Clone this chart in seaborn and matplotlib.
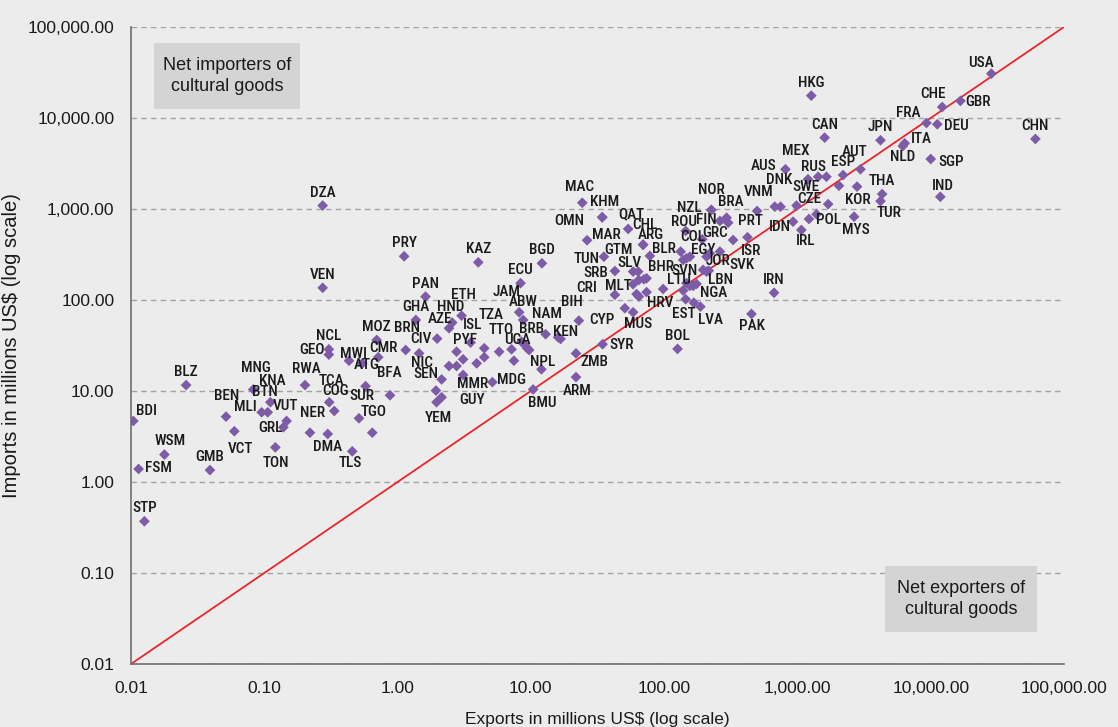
import pandas as pd
import matplotlib
matplotlib.use('Agg')
import matplotlib.pyplot as plt
import seaborn as sns
from matplotlib.patches import Rectangle
from matplotlib.ticker import FixedLocator, FuncFormatter, NullLocator

# cultural goods trade, millions US$; '' = unlabelled point
countries = ['USA', 'CHE', 'GBR', 'FRA', 'DEU', 'ITA', 'NLD', 'SGP', 'IND', 'CHN',
             'JPN', 'HKG', 'CAN', 'THA', 'TUR', 'AUT', 'ESP', 'KOR', 'MYS', 'AUS',
             'MEX', 'RUS', 'DNK', 'SWE', 'CZE', 'VNM', '', 'IDN', 'IRL', 'POL',
             '', '', '', 'PRT', 'ISR', 'IRN', 'PAK', 'NZL', 'NOR', 'FIN',
             'BRA', 'GRC', 'ROU', 'COL', 'EGY', 'JOR', 'SVK', 'BLR', 'BHR', 'SVN',
             '', '', 'LBN', '', '', 'LTU', '', '', 'NGA', '',
             'EST', '', 'LVA', 'BOL', 'HRV', '', '', 'MLT', 'CRI', 'MUS',
             'CYP', 'BIH', 'SYR', 'ZMB', 'ARM', 'SLV', '', '', '', '',
             'SRB', 'TUN', 'GTM', 'MAR', 'QAT', 'ARG', 'CHL', 'MAC', 'KHM', 'OMN',
             'BGD', 'ECU', 'ABW', 'JAM', 'NAM', 'KEN', '', 'NPL', 'BMU', 'MDG',
             'BRB', '', '', 'UGA', 'TTO', '', '', 'TZA', '', 'ISL',
             'PYF', '', '', '', '', 'NIC', 'MMR', 'SEN', 'YEM', 'GUY',
             'ETH', 'HND', 'AZE', '', 'GHA', 'PAN', 'PRY', 'KAZ', 'DZA', 'VEN',
             'CIV', 'BRN', 'MOZ', 'CMR', 'NCL', 'GEO', 'MWI', '', 'ATG', 'BFA',
             'RWA', 'TCA', 'COG', 'SUR', 'TGO', 'NER', 'DMA', 'TLS', 'MNG', 'KNA',
             'BTN', 'MLI', 'VUT', 'GRL', 'TON', 'BEN', 'VCT', 'BLZ', 'BDI', 'WSM',
             'FSM', 'GMB', 'STP']
exports = [28500, 12200, 16700, 9290, 11200, 6380, 6170, 10000, 11800, 61000,
           4200, 1270, 1600, 4320, 4200, 2970, 2200, 2800, 2660, 813,
           1650, 1430, 746, 1200, 984, 498, 676, 927, 1070, 1390,
           1220, 1700, 2050, 422, 329, 668, 452, 226, 226, 262,
           294, 302, 145, 193, 208, 220, 262, 133, 78.1, 147,
           139, 156, 216, 196, 208, 147, 156, 165, 175, 139,
           145, 167, 187, 126, 98.2, 73.8, 64.6, 62.1, 42.7, 58.5,
           50.7, 22.9, 34.5, 21.8, 21.8, 58.5, 63.8, 64.6, 70.5, 73.8,
           58.5, 42.7, 35.3, 26.4, 53.7, 69.5, 69.5, 24.3, 34.3, 34.3,
           12.1, 8.37, 8.17, 8.75, 12.9, 16.7, 16.0, 12.0, 10.4, 5.14,
           8.51, 9.02, 9.38, 9.71, 7.16, 5.78, 7.46, 4.47, 4.47, 3.53,
           2.77, 3.10, 3.92, 2.43, 2.77, 2.14, 3.10, 1.94, 1.96, 2.14,
           3.02, 2.57, 2.43, 1.98, 1.37, 1.62, 1.12, 4.03, 0.274, 0.274,
           1.45, 1.15, 0.697, 0.716, 0.305, 0.305, 0.432, 0.543, 0.575, 0.877,
           0.202, 0.307, 0.335, 0.513, 0.646, 0.220, 0.299, 0.457, 0.0826, 0.111,
           0.106, 0.0955, 0.147, 0.139, 0.121, 0.0516, 0.0596, 0.0259, 0.0104, 0.0178,
           0.0114, 0.0391, 0.0126]
imports = [30700, 13200, 15400, 8810, 8530, 5270, 4920, 3540, 1360, 5880,
           5690, 17600, 6080, 1460, 1220, 2730, 2360, 1760, 822, 2730,
           2260, 2260, 1060, 2120, 1090, 951, 1060, 725, 588, 875,
           776, 1130, 1800, 489, 456, 120, 70.2, 975, 975, 738,
           802, 706, 573, 464, 299, 326, 340, 340, 305, 287,
           275, 299, 210, 214, 205, 153, 143, 143, 150, 127,
           102, 93.3, 84.4, 29.0, 132, 122, 109, 116, 114, 73.3,
           81.1, 59.3, 32.6, 25.9, 14.2, 205, 205, 166, 169, 173,
           149, 208, 299, 453, 603, 405, 405, 1170, 811, 811,
           253, 153, 73.3, 60.3, 42.0, 37.3, 38.9, 17.3, 10.4, 12.5,
           34.8, 32.0, 29.5, 28.2, 28.7, 27.0, 21.5, 29.5, 23.5, 34.0,
           27.0, 22.3, 20.1, 18.8, 18.8, 13.4, 15.0, 10.1, 7.52, 8.53,
           67.2, 56.4, 48.9, 37.6, 60.3, 109, 302, 259, 1090, 136,
           25.9, 28.2, 36.3, 23.5, 28.7, 25.1, 21.5, 20.1, 11.3, 8.97,
           11.6, 7.52, 6.03, 5.01, 3.48, 3.48, 3.37, 2.17, 10.4, 7.52,
           5.83, 5.83, 4.68, 3.99, 2.40, 5.22, 3.61, 11.6, 4.68, 2.00,
           1.39, 1.35, 0.370]

decade_ticks = [0.01, 0.1, 1, 10, 100, 1000, 10000, 100000]

# label placement relative to its point, in pixels (x right, y down); default is just above
label_offsets = {
    'USA': (-10, -11), 'CHE': (-9, -13), 'GBR': (18, 1), 'FRA': (-18, -10), 'DEU': (19, 2),
    'ITA': (17, -4), 'NLD': (0, 11), 'SGP': (20, 3), 'IND': (3, -11), 'TUR': (9, 12),
    'AUT': (-6, -17), 'KOR': (1, 13), 'MYS': (2, 13), 'AUS': (-22, -3), 'MEX': (-31, -26),
    'RUS': (-5, -10), 'DNK': (-1, -27), 'SWE': (-2, 8), 'CZE': (13, -7), 'VNM': (1, -19),
    'IDN': (-13, 5), 'IRL': (4, 11), 'POL': (12, 6), 'PRT': (3, -16), 'ISR': (18, 11),
    'PAK': (0, 12), 'NZL': (-22, -2), 'NOR': (0, -20), 'FIN': (-14, -1), 'BRA': (4, -16),
    'GRC': (-13, 10), 'ROU': (-2, -9), 'COL': (-9, -2), 'EGY': (-3, -7), 'JOR': (8, 8),
    'SVK': (22, 13), 'BLR': (-17, -3), 'BHR': (11, 11), 'SVN': (-2, 13), 'LBN': (12, 9),
    'LTU': (-8, -3), 'NGA': (17, 9), 'EST': (-2, 15), 'LVA': (10, 13), 'HRV': (-3, 14),
    'MLT': (-18, -8), 'CRI': (-28, -7), 'MUS': (5, 12), 'CYP': (-23, 12), 'BIH': (-7, -19),
    'SYR': (19, 1), 'ZMB': (18, 9), 'ARM': (1, 14), 'SLV': (-4, -9), 'SRB': (-37, -11),
    'TUN': (-28, -12), 'GTM': (15, -7), 'MAR': (19, -5), 'QAT': (3, -15), 'ARG': (8, -10),
    'CHL': (2, -20), 'MAC': (-3, -16), 'KHM': (2, -15), 'OMN': (-33, 4), 'ABW': (4, -10),
    'JAM': (-17, -28), 'NAM': (1, -20), 'KEN': (5, -7), 'NPL': (1, -7), 'BMU': (9, 14),
    'MDG': (19, -2), 'BRB': (10, -13), 'UGA': (-12, -10), 'TTO': (-10, -19), 'TZA': (7, -33),
    'ISL': (2, -18), 'PYF': (8, -12), 'NIC': (-20, -16), 'MMR': (10, 9), 'SEN': (-10, -17),
    'YEM': (2, 16), 'GUY': (30, 3), 'ETH': (2, -21), 'HND': (-2, -16), 'AZE': (-9, -9),
    'CIV': (2, -14), 'BRN': (1, -22), 'CMR': (5, -9), 'GEO': (-17, -5), 'MWI': (4, -7),
    'ATG': (1, -21), 'BFA': (-1, -22), 'RWA': (1, -16), 'TCA': (2, -21), 'COG': (1, -20),
    'SUR': (3, -22), 'TGO': (1, -21), 'NER': (3, -20), 'DMA': (0, 13), 'TLS': (-2, 12),
    'MNG': (3, -21), 'KNA': (2, -21), 'BTN': (-3, -20), 'MLI': (-16, -5), 'VUT': (-1, -15),
    'GRL': (-13, 1), 'TON': (1, 16), 'BEN': (1, -21), 'VCT': (6, 18), 'BDI': (13, -10),
    'WSM': (6, -14), 'FSM': (20, -1),
}

sns.set_theme(style='white')
plt.rcParams['font.family'] = ['Liberation Sans', 'DejaVu Sans']
bg = '#ECECEC'
ink = '#1A1A1A'

df = pd.DataFrame({'country': countries, 'exports': exports, 'imports': imports})

fig, ax = plt.subplots(figsize=(11.18, 7.27), dpi=100)
fig.patch.set_facecolor(bg)
ax.set_facecolor(bg)
fig.subplots_adjust(left=0.1172, right=0.9517, bottom=0.0867, top=0.9629)

ax.set_xscale('log')
ax.set_yscale('log')

# parity line: exports == imports
ax.plot([decade_ticks[0], decade_ticks[-1]], [decade_ticks[0], decade_ticks[-1]],
        color='#E8262B', lw=1.3, zorder=2)

sns.scatterplot(data=df, x='exports', y='imports', marker='D', s=30,
                color='#7D5BA6', edgecolor='none', ax=ax, zorder=3)

for name, x, y in zip(countries, exports, imports):
    if not name:
        continue
    dx, dy = label_offsets.get(name, (0, -13))
    ax.annotate(name, (x, y), xytext=(dx, -dy), textcoords='offset pixels',
                ha='center', va='center', fontsize=11, fontweight='medium',
                color=ink, zorder=4, family=['Roboto Condensed', 'Liberation Sans'])

ax.set_xlim(decade_ticks[0], decade_ticks[-1])
ax.set_ylim(decade_ticks[0], decade_ticks[-1])
fmt = FuncFormatter(lambda v, _: f'{v:,.2f}')
for axis in (ax.xaxis, ax.yaxis):
    axis.set_major_locator(FixedLocator(decade_ticks))
    axis.set_minor_locator(NullLocator())
    axis.set_major_formatter(fmt)

ax.yaxis.grid(True, linestyle=(0, (4, 3)), color='#A3A3A3', lw=1)
ax.xaxis.grid(False)
ax.set_axisbelow(True)
for side in ('top', 'right'):
    ax.spines[side].set_visible(False)
for side in ('left', 'bottom'):
    ax.spines[side].set_color('#6E6E6E')
    ax.spines[side].set_linewidth(1.2)
ax.tick_params(axis='x', length=4, color='#6E6E6E', pad=8, labelsize=12.5, labelcolor=ink)
ax.tick_params(axis='y', length=0, pad=12, labelsize=12.5, labelcolor=ink)

ax.set_xlabel('Exports in millions US\\$ (log scale)', fontsize=12.5, color=ink, labelpad=12)
ax.set_ylabel('Imports in millions US\\$ (log scale)', fontsize=14.5, color=ink, labelpad=5)

boxes = [((0.0247, 0.8713), 'Net importers of\ncultural goods'),
         ((0.808, 0.0502), 'Net exporters of\ncultural goods')]
for (bx, by), txt in boxes:
    w = 0.1565 if by > 0.5 else 0.163
    ax.add_patch(Rectangle((bx, by), w, 0.1036, transform=ax.transAxes,
                           facecolor='#D4D4D4', edgecolor='none', zorder=4))
    ax.text(bx + w / 2, by + 0.1036 / 2, txt, transform=ax.transAxes, ha='center',
            va='center', fontsize=13, color=ink, linespacing=1.35, zorder=5)

fig.savefig('out.png', dpi=100, facecolor=bg)
